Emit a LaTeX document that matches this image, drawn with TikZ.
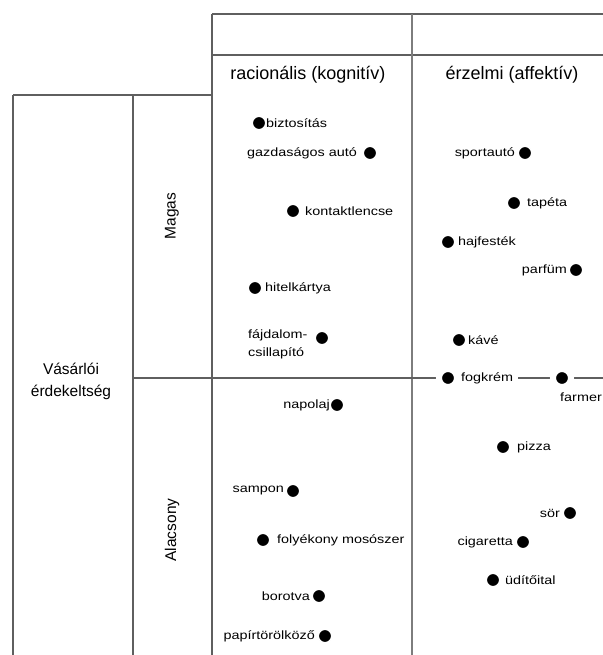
\documentclass[tikz,border=0pt]{standalone}
\usepackage{fontspec}
\setmainfont{Liberation Sans}
\newfontfamily\labfont[FakeStretch=1.2]{Liberation Sans}
\definecolor{gridc}{RGB}{95,95,95}
\definecolor{midc}{RGB}{125,125,125}
\begin{document}
\begin{tikzpicture}[x=1bp,y=-1bp,
  grid/.style={draw=gridc, line width=1.4bp},
  midline/.style={draw=midc, line width=2.6bp},
  dot/.style={circle, fill=black, draw=white, line width=1.5bp, minimum size=13.5bp, inner sep=0pt},
  ondot/.style={dot, line width=6bp, minimum size=18bp},
  lab/.style={font=\labfont\fontsize{12bp}{18bp}\selectfont, inner xsep=0bp, inner ysep=1bp},
  lr/.style={lab, anchor=west},
  ll/.style={lab, anchor=east},
  online/.style={fill=white, inner xsep=5bp, xshift=-5bp},
  head/.style={font=\fontsize{18bp}{22bp}\selectfont, inner sep=1bp},
  side/.style={font=\fontsize{15.5bp}{22bp}\selectfont, inner sep=1bp, align=center}
]
\useasboundingbox (0,0) rectangle (603,655);
% grid
\draw[grid] (212,14) -- (603,14);
\draw[grid] (212,55) -- (603,55);
\draw[grid] (212,14) -- (212,655);
\draw[midline] (412,14) -- (412,655);
\draw[grid] (13,95) -- (212,95);
\draw[grid] (13,95) -- (13,655);
\draw[grid] (133,95) -- (133,655);
\draw[grid, line width=1.1bp] (133,378) -- (603,378);

% headers
\node[head] (h1) at (308,75) {racionális (kognitív)};
\node[head] (h2) at (512,75) {érzelmi (affektív)};
\node[side] (v) at (71,381) {Vásárlói\\érdekeltség};
\node[side, rotate=90] (m) at (172,216) {Magas};
\node[side, rotate=90] (a) at (172,530) {Alacsony};

% labels
\node[lr] (l1) at (266,123) {biztosítás};
\node[ll] (l2) at (357,153) {gazdaságos autó};
\node[lr] (l3) at (305,211) {kontaktlencse};
\node[lr] (l4) at (265,288) {hitelkártya};
\node[lr, align=left] (l5) at (248,344) {fájdalom-\\csillapító};
\node[ll] (l6) at (515,153) {sportautó};
\node[lr] (l7) at (527,203) {tapéta};
\node[lr] (l8) at (458,242) {hajfesték};
\node[ll] (l9) at (567,270) {parfüm};
\node[lr] (l10) at (468,340) {kávé};
\node[lr, online] (l11) at (461,378) {fogkrém};
\node[lr] (l12) at (560,397) {farmer};
\node[ll] (l13) at (330,405) {napolaj};
\node[ll] (l14) at (284,491) {sampon};
\node[lr] (l15) at (277,540) {folyékony mosószer};
\node[ll] (l16) at (310,596) {borotva};
\node[ll] (l17) at (315,636) {papírtörölköző};
\node[lr] (l18) at (517,447) {pizza};
\node[ll] (l19) at (560,513) {sör};
\node[ll] (l20) at (513,542) {cigaretta};
\node[lr] (l21) at (505,580) {üdítőital};

% dots
\node[dot] (d1) at (259,123) {};
\node[dot] (d2) at (370,153) {};
\node[dot] (d3) at (293,211) {};
\node[dot] (d4) at (255,288) {};
\node[dot] (d5) at (322,338) {};
\node[dot] (d6) at (525,153) {};
\node[dot] (d7) at (514,203) {};
\node[dot] (d8) at (448,242) {};
\node[dot] (d9) at (576,270) {};
\node[dot] (d10) at (459,340) {};
\node[ondot] (d11) at (448,378) {};
\node[ondot] (d12) at (562,378) {};
\node[dot] (d13) at (337,405) {};
\node[dot] (d14) at (293,491) {};
\node[dot] (d15) at (263,540) {};
\node[dot] (d16) at (319,596) {};
\node[dot] (d17) at (325,636) {};
\node[dot] (d18) at (503,447) {};
\node[dot] (d19) at (570,513) {};
\node[dot] (d20) at (523,542) {};
\node[dot] (d21) at (493,580) {};
\end{tikzpicture}
\end{document}
